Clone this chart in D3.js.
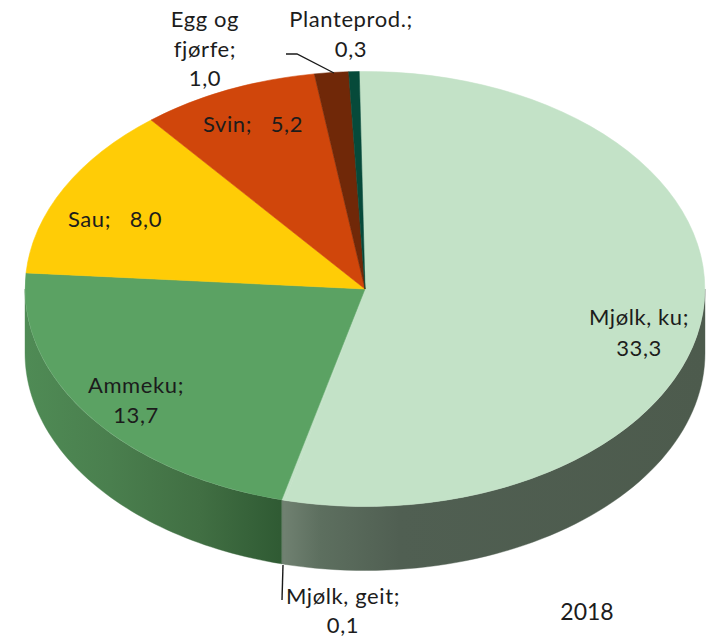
<!DOCTYPE html>
<html>
<head>
<meta charset="utf-8">
<script src="https://cdnjs.cloudflare.com/ajax/libs/d3/7.8.5/d3.min.js"></script>
<style>
  html, body { margin: 0; padding: 0; background: #fff; }
  text { font-family: Lato, "Open Sans", sans-serif; font-size: 22px; letter-spacing: 0.6px; fill: #1c1c1c; }
</style>
</head>
<body>
<div id="chart"></div>
<script>
// slices run clockwise from the top of the pie
const categories = ["Mjølk, ku", "Mjølk, geit", "Ammeku", "Sau", "Svin", "Egg og fjørfe", "Planteprod."];
const values = [33.3, 0.1, 13.7, 8.0, 5.2, 1.0, 0.3];
const colors = ["#c3e2c7", "#c3e2c7", "#5ba263", "#ffcc06", "#d0460b", "#702808", "#064a3a"];
const yearLabel = "2018";

let width = 718, height = 638;
let cx = 365, cy = 289, rx = 340, ry = 217.5, depth = 64;
let startAngle = -1 * Math.PI / 180;

// label lines, anchored at their own centre
let labelLayout = {
    "Mjølk, ku": {x: 639, y: 325, dy: 31, lines: ["Mjølk, ku;", "33,3"]},
    "Mjølk, geit": {x: 343, y: 604, dy: 29, lines: ["Mjølk, geit;", "0,1"]},
    "Ammeku": {x: 136, y: 393, dy: 30, lines: ["Ammeku;", "13,7"]},
    "Sau": {x: 115, y: 227, dy: 0, lines: ["Sau;   8,0"]},
    "Svin": {x: 253, y: 132, dy: 0, lines: ["Svin;   5,2"]},
    "Egg og fjørfe": {x: 205, y: 27, dy: 29.5, lines: ["Egg og", "fjørfe;", "1,0"]},
    "Planteprod.": {x: 351, y: 27, dy: 29.5, lines: ["Planteprod.;", "0,3"]}
};

let svg = d3.select("#chart").append("svg")
    .attr("width", width)
    .attr("height", height)
    .style("display", "block");

let defs = svg.append("defs");

let wallGradients = {
    "Mjølk, ku": [[285, "#6f8070"], [320, "#5d6f5f"], [400, "#505f52"], [705, "#4d5b4d"]],
    "Mjølk, geit": [[280, "#6f8070"], [290, "#6f8070"]],
    "Ammeku": [[25, "#4f8b55"], [110, "#4a7f4e"], [200, "#416f43"], [283, "#2f5a33"]]
};

Object.keys(wallGradients).forEach(function(name, i) {
    let stops = wallGradients[name];
    let x0 = stops[0][0], x1 = stops[stops.length - 1][0];
    let gradient = defs.append("linearGradient")
        .attr("id", "wall" + i)
        .attr("gradientUnits", "userSpaceOnUse")
        .attr("x1", x0).attr("x2", x1).attr("y1", 0).attr("y2", 0);
    stops.forEach(function(s) {
        gradient.append("stop")
            .attr("offset", (s[0] - x0) / (x1 - x0))
            .attr("stop-color", s[1]);
    });
    wallGradients[name].id = "wall" + i;
});

let pie = d3.pie()
    .sort(null)
    .startAngle(startAngle)
    .endAngle(startAngle + 2 * Math.PI);

let slices = pie(values).map(function(d, i) {
    d.name = categories[i];
    d.color = colors[i];
    return d;
});

let ellipseX = function(a) { return cx + rx * Math.sin(a); };
let ellipseY = function(a) { return cy - ry * Math.cos(a); };

// outer wall: only the front half of the rim shows
let wallPath = function(a0, a1) {
    let steps = d3.range(0, 61).map(function(k) { return a0 + (a1 - a0) * k / 60; });
    let top = steps.map(function(a) { return [ellipseX(a), ellipseY(a)]; });
    let bottom = steps.slice().reverse().map(function(a) { return [ellipseX(a), ellipseY(a) + depth]; });
    return d3.line()(top.concat(bottom)) + "Z";
};

let walls = slices.filter(function(d) {
    return d.startAngle < 1.5 * Math.PI && d.endAngle > 0.5 * Math.PI;
});

svg.append("g").selectAll("path")
    .data(walls)
  .enter().append("path")
    .attr("d", function(d) {
        return wallPath(Math.max(d.startAngle, 0.5 * Math.PI), Math.min(d.endAngle, 1.5 * Math.PI));
    })
    .attr("fill", function(d) { return "url(#" + wallGradients[d.name].id + ")"; })
    .attr("stroke", function(d) { return "url(#" + wallGradients[d.name].id + ")"; })
    .attr("stroke-width", 0.4);

let arc = d3.arc().innerRadius(0).outerRadius(1);

svg.append("g")
    .attr("transform", "translate(" + cx + "," + cy + ") scale(" + rx + "," + ry + ")")
    .selectAll("path")
    .data(slices)
  .enter().append("path")
    .attr("d", arc)
    .attr("fill", function(d) { return d.color; })
    .attr("stroke", function(d) { return d.color; })
    .attr("stroke-width", 0.002);

// leader lines
let leaders = [
    [[286, 54], [297, 54], [334, 73]],
    [[283, 565], [282, 600]]
];
svg.append("g").selectAll("path")
    .data(leaders)
  .enter().append("path")
    .attr("d", d3.line())
    .attr("fill", "none")
    .attr("stroke", "#1a1a1a")
    .attr("stroke-width", 1.4);

let label = svg.append("g").selectAll("text")
    .data(categories)
  .enter().append("text")
    .attr("text-anchor", "middle");

label.selectAll("tspan")
    .data(function(name) {
        let l = labelLayout[name];
        return l.lines.map(function(t, i) { return {text: t, x: l.x, y: l.y + i * l.dy}; });
    })
  .enter().append("tspan")
    .attr("x", function(d) { return d.x; })
    .attr("y", function(d) { return d.y; })
    .style("white-space", "pre")
    .text(function(d) { return d.text; });

svg.append("text")
    .attr("x", 587)
    .attr("y", 620)
    .attr("text-anchor", "middle")
    .style("font-size", "23px")
    .style("letter-spacing", "0")
    .text(yearLabel);
</script>
</body>
</html>
